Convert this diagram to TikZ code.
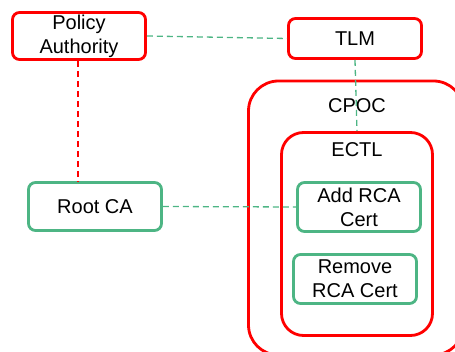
\documentclass[tikz,border=0pt]{standalone}
\usepackage{fontspec}
\setmainfont{Liberation Sans}
\definecolor{boxred}{HTML}{FF0000}
\definecolor{boxgreen}{HTML}{4DB584}
\begin{document}
\begin{tikzpicture}[x=1pt,y=-1pt,
  every node/.style={font=\fontsize{20}{24}\selectfont, text=black, inner sep=0pt, align=center},
  redbox/.style={draw=boxred, line width=2.8pt, rounded corners=7pt, rectangle},
  greenbox/.style={draw=boxgreen, line width=2.8pt, rounded corners=7pt, rectangle},
  container/.style={draw=boxred, line width=2.8pt, rectangle},
  greenlink/.style={color=boxgreen, line width=1.3pt, dash pattern=on 6pt off 4pt},
  redlink/.style={color=boxred, line width=1.5pt, dash pattern=on 6pt off 4pt}
]
\useasboundingbox (0,0) rectangle (455,352);
\clip (0,0) rectangle (455,352);

% containers
\node[container, rounded corners=30pt, minimum width=215pt, minimum height=274pt] (cpoc) at (356,218) {};
\node[container, rounded corners=22pt, minimum width=151pt, minimum height=203pt] (ectl) at (357,234) {};
\node (cpoclabel) at (357,106) {CPOC};
\node (ectllabel) at (357,150) {ECTL};

% boxes
\node[redbox, minimum width=133pt, minimum height=47pt] (pa) at (79,36) {Policy\\Authority};
\node[redbox, minimum width=133pt, minimum height=40pt] (tlm) at (355,38.5) {TLM};
\node[greenbox, minimum width=133pt, minimum height=48pt] (root) at (95,206.5) {Root CA};
\node[greenbox, minimum width=123pt, minimum height=49pt] (add) at (359,207) {Add RCA\\Cert};
\node[greenbox, minimum width=123pt, minimum height=49pt] (remove) at (355,279) {Remove\\RCA Cert};

% links
\draw[greenlink] (pa.east) -- (tlm.west);
\draw[redlink] ([xshift=-1pt]pa.south) -- ([xshift=-1pt]pa.south |- root.north);
\draw[greenlink] (tlm.south) -- (ectl.north);
\draw[greenlink] (root.east) -- (add.west);
\end{tikzpicture}
\end{document}
